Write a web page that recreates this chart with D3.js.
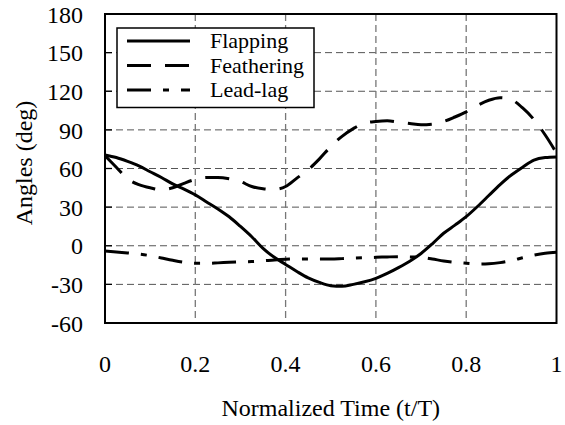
<!DOCTYPE html>
<html>
<head>
<meta charset="utf-8">
<script src="https://cdn.jsdelivr.net/npm/d3@7"></script>
<style>
  body { margin: 0; background: #fff; font-family: "Liberation Serif"; }
  svg, svg g, svg text { font-family: "Liberation Serif" !important; }
</style>
</head>
<body>
<div id="chart"></div>
<script>
// normalized time samples (t/T)
var timeSteps = [0, 0.025, 0.05, 0.075, 0.1, 0.125, 0.15, 0.175, 0.2, 0.225, 0.25, 0.275, 0.3, 0.325, 0.35, 0.375, 0.4, 0.425, 0.45, 0.475, 0.5,
                 0.525, 0.55, 0.575, 0.6, 0.625, 0.65, 0.675, 0.7, 0.725, 0.75, 0.775, 0.8, 0.825, 0.85, 0.875, 0.9, 0.925, 0.95, 0.975, 1];

// angles (deg)
var flapping = [70.5, 68.5, 65.5, 62, 57.5, 53, 48, 44, 39.5, 34, 28.5, 22.5, 15, 7, -2, -9, -14.5, -20, -25, -28.5, -31,
                -31.5, -30, -28, -25.3, -21.5, -17, -12, -6, 1.5, 9.7, 16, 22.6, 30.5, 39, 47.5, 55, 61, 66.5, 68.5, 69];
var feathering = [70, 61, 52, 47.5, 45, 43.5, 45, 48.5, 51.5, 53, 53, 52, 49.8, 46, 44.3, 43.8, 46, 52.5, 59, 67.5, 77,
                  85, 91, 95.3, 96.5, 97, 96, 95, 94, 94.5, 96.5, 100, 104, 109, 113, 115, 113.5, 107, 98, 86, 72];
var leadLag = [-4, -4.8, -5.6, -6.5, -7.7, -9.5, -11.3, -12.8, -13.6, -13.6, -13.3, -12.9, -12.6, -12.3, -11.7, -11, -10.5, -10.3, -10.3, -10.3, -10.3,
               -10, -9.6, -9.3, -9, -8.7, -8.5, -8.7, -9, -10.3, -11.8, -12.9, -13.6, -14.2, -14, -13.1, -11.5, -9.3, -7.3, -5.8, -5];

var seriesNames = ['Flapping', 'Feathering', 'Lead-lag'];
var xTicks = [0, 0.2, 0.4, 0.6, 0.8, 1];
var yTicks = [-60, -30, 0, 30, 60, 90, 120, 150, 180];

var width = 565, height = 425;
var margin = { top: 14, right: 8.5, bottom: 102, left: 105 };
var w = width - margin.left - margin.right,
    h = height - margin.top - margin.bottom;

var svg = d3.select('#chart').append('svg')
    .attr('width', width)
    .attr('height', height);

var g = svg.append('g')
    .attr('transform', 'translate(' + margin.left + ',' + margin.top + ')');

var x = d3.scaleLinear().domain([0, 1]).range([0, w]);
var y = d3.scaleLinear().domain([-60, 180]).range([h, 0]);

// grid
g.selectAll('.hgrid')
    .data(yTicks.filter(function(d) { return d > -60 && d < 180; }))
    .enter().append('line')
    .attr('x1', 0).attr('x2', w)
    .attr('y1', function(d) { return y(d); })
    .attr('y2', function(d) { return y(d); })
    .attr('stroke', '#555').attr('stroke-width', 1)
    .attr('stroke-dasharray', '7,4');

g.selectAll('.vgrid')
    .data(xTicks.filter(function(d) { return d > 0 && d < 1; }))
    .enter().append('line')
    .attr('x1', function(d) { return x(d); })
    .attr('x2', function(d) { return x(d); })
    .attr('y1', 0).attr('y2', h)
    .attr('stroke', '#777').attr('stroke-width', 1.3)
    .attr('stroke-dasharray', '7,4');

// axes (inner ticks, labels) - labels drawn as plain text so the serif font sticks
var yg = g.append('g');
yg.selectAll('line')
    .data(yTicks)
    .enter().append('line')
    .attr('x1', 0).attr('x2', 7)
    .attr('y1', function(d) { return y(d); })
    .attr('y2', function(d) { return y(d); })
    .attr('stroke', '#000').attr('stroke-width', 1.3);
yg.selectAll('text')
    .data(yTicks)
    .enter().append('text')
    .attr('x', -22)
    .attr('y', function(d) { return y(d); })
    .attr('dy', '0.36em')
    .attr('text-anchor', 'end')
    .attr('font-size', 24)
    .style('font-family', 'Liberation Serif')
    .text(function(d) { return String(d); });

var xg = g.append('g');
xg.selectAll('text')
    .data(xTicks)
    .enter().append('text')
    .attr('x', function(d) { return x(d); })
    .attr('y', h + 49)
    .attr('text-anchor', 'middle')
    .attr('font-size', 24)
    .style('font-family', 'Liberation Serif')
    .text(function(d) { return String(d); });

// frame
g.append('rect')
    .attr('width', w).attr('height', h)
    .attr('fill', 'none').attr('stroke', '#000').attr('stroke-width', 2);

// series
var series = [
    { name: seriesNames[0], values: flapping, dash: null },
    { name: seriesNames[1], values: feathering, dash: '24,14' },
    { name: seriesNames[2], values: leadLag, dash: '24,12,6,12' }
];

var line = d3.line()
    .x(function(d, i) { return x(timeSteps[i]); })
    .y(function(d) { return y(d); })
    .curve(d3.curveMonotoneX);

g.selectAll('.series')
    .data(series)
    .enter().append('path')
    .attr('d', function(d) { return line(d.values); })
    .attr('fill', 'none')
    .attr('stroke', '#000')
    .attr('stroke-width', 3)
    .attr('stroke-dasharray', function(d) { return d.dash; });

// legend
var legend = g.append('g').attr('transform', 'translate(12,14)');
legend.append('rect')
    .attr('width', 197).attr('height', 79.5)
    .attr('fill', '#fff').attr('stroke', '#000').attr('stroke-width', 1.5);

var items = legend.selectAll('.item')
    .data(series)
    .enter().append('g')
    .attr('transform', function(d, i) { return 'translate(0,' + (13 + i * 24.5) + ')'; });

items.append('line')
    .attr('x1', 10).attr('x2', 73)
    .attr('y1', 0).attr('y2', 0)
    .attr('stroke', '#000').attr('stroke-width', 3)
    .attr('stroke-dasharray', function(d) { return d.dash; });

items.append('text')
    .attr('x', 93).attr('dy', '0.33em')
    .attr('font-size', 22)
    .style('font-family', 'Liberation Serif')
    .text(function(d) { return d.name; });

// axis titles
svg.append('text')
    .attr('x', margin.left + w / 2).attr('y', 416)
    .attr('text-anchor', 'middle')
    .attr('font-size', 24)
    .style('font-family', 'Liberation Serif')
    .text('Normalized Time (t/T)');

svg.append('text')
    .attr('transform', 'translate(31.5,163) rotate(-90)')
    .attr('text-anchor', 'middle')
    .attr('font-size', 24)
    .style('font-family', 'Liberation Serif')
    .text('Angles (deg)');
</script>
</body>
</html>
